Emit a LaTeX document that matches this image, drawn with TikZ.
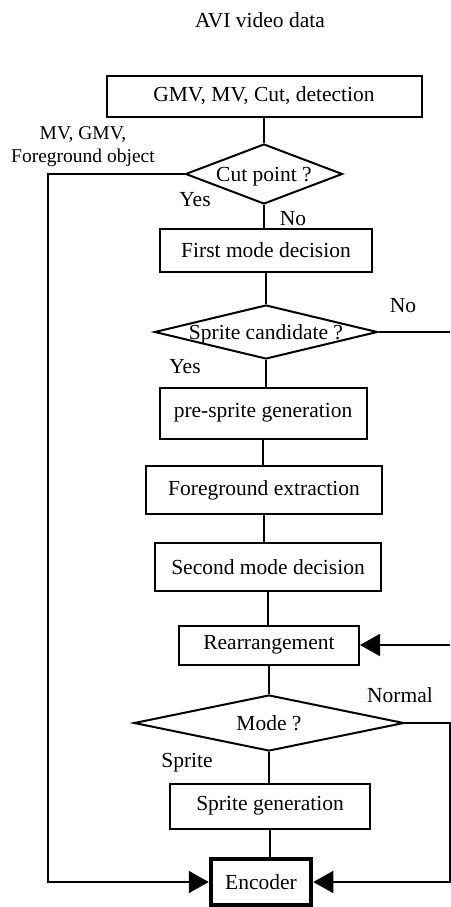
\documentclass[tikz,border=0pt]{standalone}
\usepackage{fontspec}
\setmainfont{Liberation Serif}
\usetikzlibrary{shapes.geometric,arrows.meta}
\tikzset{
  proc/.style={draw, line width=2pt, inner sep=0pt},
  decide/.style={draw, line width=2pt, shape=diamond, aspect=4, inner sep=0pt, text depth=0pt},
  flow/.style={line width=1.8pt},
  tip/.style={line width=1.8pt, -{Triangle[length=20pt,width=22pt]}},
  lbl/.style={inner sep=0pt}
}
\begin{document}
\begin{tikzpicture}[x=1pt, y=-1pt, font=\fontsize{21.5}{25}\selectfont]
  \useasboundingbox (0,0) rectangle (450,907);
  \node[lbl] (title) at (260,20) {AVI video data};
  \node[proc, minimum width=315pt, minimum height=41pt] (det) at (264,96) {GMV, MV, Cut, detection};
  \node[decide, minimum width=157pt, minimum height=60pt] (cut) at (264,174) {Cut point ?};
  \node[proc, minimum width=212pt, minimum height=43pt] (first) at (266,250) {First mode decision};
  \node[decide, minimum width=223pt, minimum height=54pt] (cand) at (266,332) {Sprite candidate ?};
  \node[proc, minimum width=207pt, minimum height=51pt] (pre) at (263,413) {pre-sprite generation};
  \node[proc, minimum width=236pt, minimum height=48pt] (fg) at (264,490) {Foreground extraction};
  \node[proc, minimum width=226pt, minimum height=48pt] (second) at (268,567) {Second mode decision};
  \node[proc, minimum width=180pt, minimum height=39pt] (rearr) at (269,645) {Rearrangement};
  \node[decide, minimum width=270pt, minimum height=56pt] (mode) at (269,723) {Mode ?};
  \node[proc, minimum width=200pt, minimum height=45pt] (sgen) at (270,806) {Sprite generation};
  \node[proc, line width=4.5pt, minimum width=100pt, minimum height=46pt] (enc) at (261,882) {Encoder};

  \node[lbl, align=center, font=\fontsize{19.5}{23}\selectfont] (objs) at (83,147) {MV, GMV,\\Foreground object};
  \node[lbl] (yes1) at (195,200) {Yes};
  \node[lbl] (no1) at (293,219) {No};
  \node[lbl] (no2) at (403,306) {No};
  \node[lbl] (yes2) at (185,367) {Yes};
  \node[lbl] (normal) at (400,695) {Normal};
  \node[lbl] (sprite) at (187,763) {Sprite};

  \draw[flow] (det) -- (cut);
  \draw[flow] (cut.south) -- (cut.south |- first.north);
  \draw[flow] (first) -- (cand);
  \draw[flow] (cand.south) -- (cand.south |- pre.north);
  \draw[flow] (pre.south) -- (pre.south |- fg.north);
  \draw[flow] (fg.south) -- (fg.south |- second.north);
  \draw[flow] (second.south) -- (second.south |- rearr.north);
  \draw[flow] (rearr) -- (mode);
  \draw[flow] (mode.south) -- (mode.south |- sgen.north);
  \draw[flow] (sgen.south) -- (sgen.south |- enc.north);

  \coordinate (lft) at (48,174);
  \draw[tip] (cut.west) -- (lft) |- (enc.west);
  \coordinate (rno) at (450,332);
  \draw[flow] (cand.east) -- (rno);
  \coordinate (rin) at (450,645);
  \draw[tip] (rin) -- (rearr.east);
  \coordinate (rnm) at (450,723);
  \draw[tip] (mode.east) -- (rnm) |- (enc.east);
\end{tikzpicture}
\end{document}
